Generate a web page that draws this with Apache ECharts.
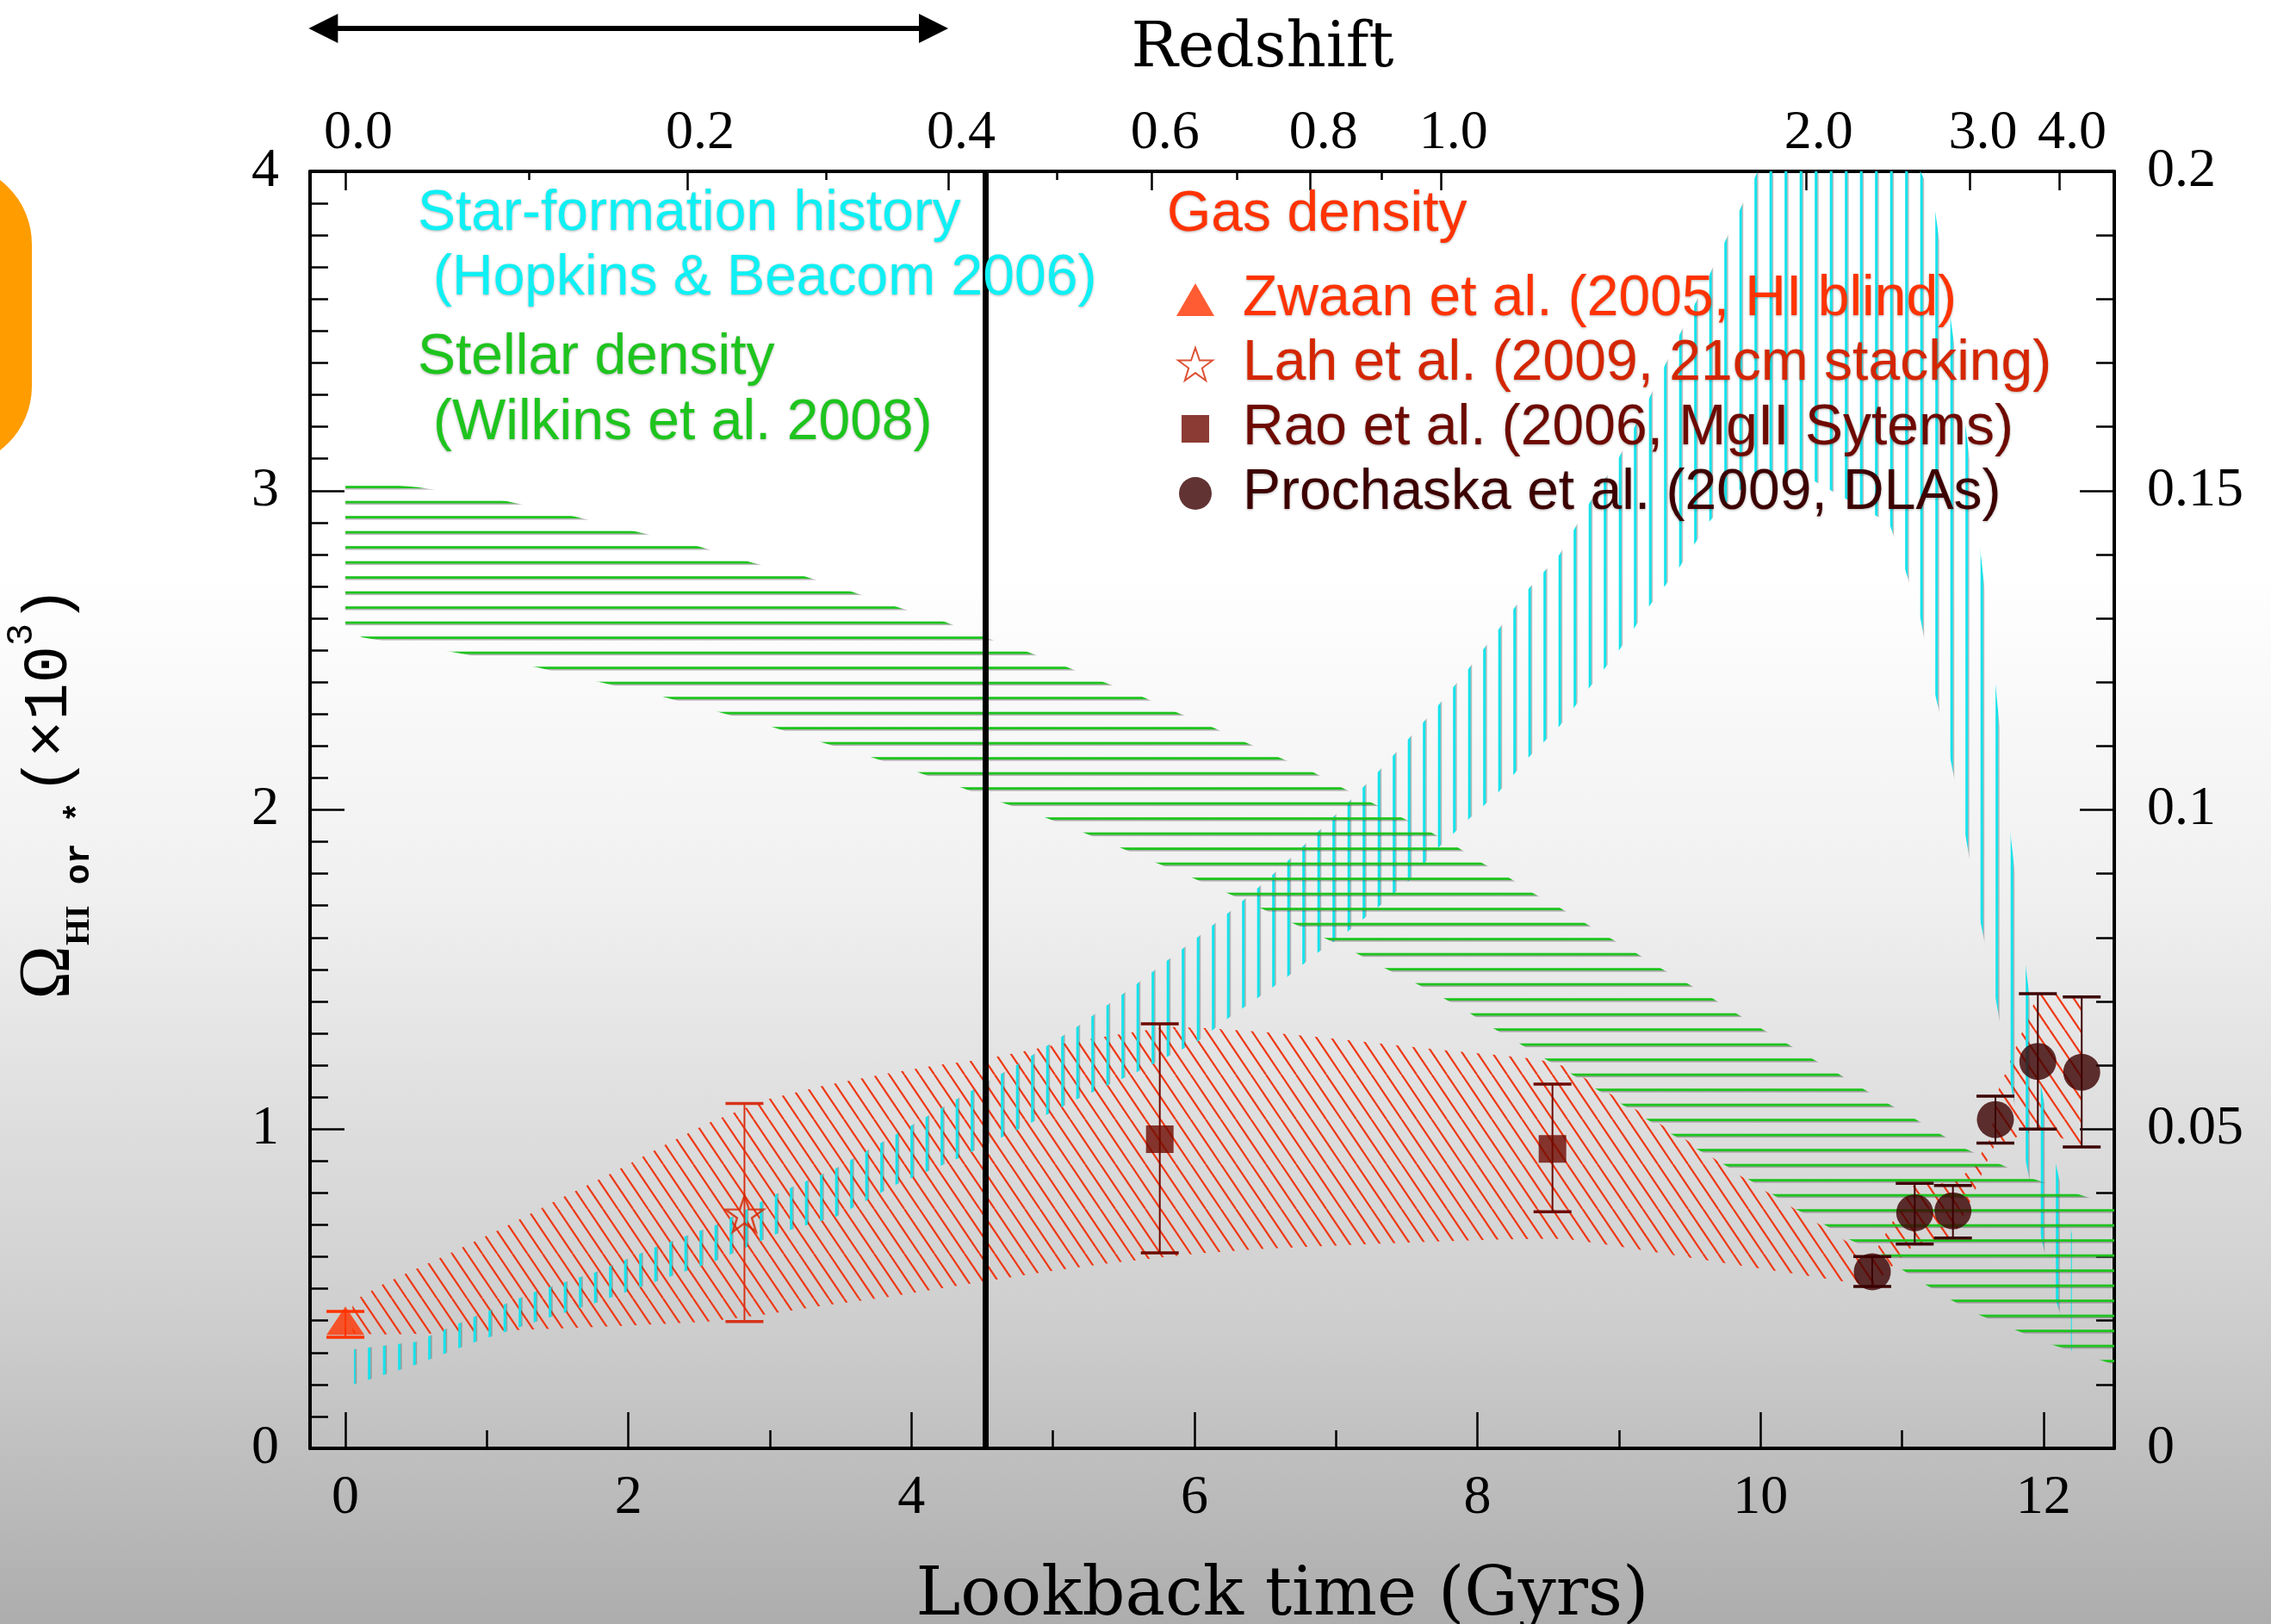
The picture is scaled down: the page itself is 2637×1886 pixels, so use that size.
<!DOCTYPE html>
<html>
<head>
<meta charset="utf-8">
<script src="https://cdn.jsdelivr.net/npm/echarts@6/dist/echarts.min.js"></script>
<style>
html, body { margin: 0; padding: 0; }
#chart { width: 2637px; height: 1886px; }
</style>
</head>
<body>
<div id="chart"></div>
<script>
// lookback time axis (Gyr)
var xMajor = [0, 2, 4, 6, 8, 10, 12];
var xMinor = [1, 3, 5, 7, 9, 11];
// redshift ticks, placed at the lookback time they correspond to
var zMajorT = [0, 2.415, 4.26, 5.70, 6.82, 7.74, 10.32, 11.48, 12.11];
var zMajorLabels = ['0.0', '0.2', '0.4', '0.6', '0.8', '1.0', '2.0', '3.0', '4.0'];
var zMinorT = [1.295, 3.395, 5.03, 6.30, 7.32];

// star-formation history band (right axis)
var sfrT = [0.06, 0.50, 0.92, 1.34, 1.77, 2.19, 2.62, 3.05, 3.47, 3.90, 4.32, 4.75, 5.17, 5.59, 6.02, 6.24, 6.45, 6.66, 6.87, 7.08, 7.30, 7.52, 7.72, 7.94, 8.15, 8.36, 8.58, 8.79, 9.00, 9.21, 9.43, 9.64, 9.85, 9.98, 10.30, 10.70, 10.91, 11.01, 11.13, 11.22, 11.34, 11.45, 11.55, 11.66, 11.76, 11.87, 11.97, 12.08, 12.20];
var sfrLo = [0.0100, 0.0131, 0.0167, 0.0198, 0.0228, 0.0261, 0.0294, 0.0336, 0.0363, 0.0414, 0.0453, 0.0499, 0.0547, 0.0589, 0.0637, 0.0674, 0.0706, 0.0739, 0.0776, 0.0809, 0.0848, 0.0890, 0.0940, 0.0986, 0.1028, 0.1082, 0.1131, 0.1191, 0.1250, 0.1318, 0.1381, 0.1452, 0.1500, 0.1520, 0.1525, 0.1475, 0.1449, 0.1385, 0.1300, 0.1194, 0.1082, 0.0958, 0.0830, 0.0707, 0.0578, 0.0455, 0.0343, 0.0237, 0.0151];
var sfrHi = [0.0155, 0.0167, 0.0207, 0.0245, 0.0276, 0.0315, 0.0350, 0.0399, 0.0439, 0.0493, 0.0547, 0.0601, 0.0660, 0.0727, 0.0800, 0.0839, 0.0878, 0.0920, 0.0965, 0.1010, 0.1060, 0.1113, 0.1163, 0.1222, 0.1283, 0.1346, 0.1400, 0.1480, 0.1552, 0.1643, 0.1745, 0.1838, 0.1938, 0.2000, 0.2000, 0.2000, 0.2000, 0.2000, 0.2000, 0.1960, 0.1775, 0.1600, 0.1413, 0.1198, 0.0975, 0.0763, 0.0583, 0.0452, 0.0336];

// stellar density band, upper and lower edges
var starUpT = [0, 0.51, 1.14, 1.63, 2.07, 2.49, 2.86, 3.24, 3.58, 3.90, 4.23, 4.52, 4.82, 5.10, 5.36, 5.63, 5.87, 6.12, 6.37, 6.59, 6.83, 7.04, 7.25, 7.46, 7.67, 7.86, 8.03, 8.22, 8.39, 8.58, 8.75, 8.93, 9.11, 9.29, 9.47, 9.65, 9.82, 10.0, 10.18, 10.36, 10.54, 10.71, 10.9, 11.08, 11.26, 11.44, 11.67, 11.91, 12.22, 12.5];
var starUpY = [3.03, 3.011, 2.967, 2.918, 2.87, 2.826, 2.776, 2.732, 2.683, 2.635, 2.59, 2.54, 2.495, 2.447, 2.40, 2.355, 2.306, 2.26, 2.21, 2.166, 2.12, 2.07, 2.023, 1.977, 1.93, 1.883, 1.834, 1.788, 1.74, 1.694, 1.648, 1.6, 1.554, 1.505, 1.46, 1.413, 1.365, 1.316, 1.27, 1.222, 1.176, 1.13, 1.08, 1.035, 0.987, 0.94, 0.895, 0.847, 0.8, 0.76];
var starLowT = [0, 0.12, 0.75, 1.35, 1.80, 2.24, 2.64, 3.01, 3.38, 3.71, 4.03, 4.35, 4.64, 4.94, 5.21, 5.47, 5.73, 5.98, 6.23, 6.46, 6.68, 6.91, 7.13, 7.34, 7.55, 7.75, 7.94, 8.11, 8.29, 8.47, 8.65, 8.82, 9.01, 9.18, 9.36, 9.54, 9.72, 9.90, 10.07, 10.24, 10.44, 10.61, 10.84, 10.98, 11.15, 11.33, 11.52, 11.78, 12.03, 12.38, 12.5];
var starLowY = [2.565, 2.54, 2.495, 2.447, 2.40, 2.355, 2.306, 2.26, 2.21, 2.166, 2.12, 2.07, 2.023, 1.977, 1.93, 1.883, 1.834, 1.788, 1.74, 1.694, 1.648, 1.6, 1.554, 1.505, 1.46, 1.413, 1.365, 1.316, 1.27, 1.222, 1.176, 1.13, 1.08, 1.035, 0.987, 0.94, 0.895, 0.847, 0.8, 0.752, 0.704, 0.658, 0.61, 0.566, 0.517, 0.469, 0.423, 0.375, 0.329, 0.28, 0.262];

// gas density band
var gasT = [0.05, 0.27, 0.68, 1.08, 1.48, 1.89, 2.25, 2.57, 2.98, 3.38, 3.82, 4.19, 4.52, 5.00, 5.40, 5.81, 6.08, 6.49, 6.90, 7.32, 7.72, 8.14, 8.42, 8.63, 9.04, 9.45, 9.82, 10.22, 10.61, 10.79, 11.09, 11.36, 11.50, 11.63, 11.66, 11.96, 12.15, 12.27];
var gasLo = [0.36, 0.357, 0.36, 0.368, 0.375, 0.382, 0.39, 0.397, 0.42, 0.447, 0.473, 0.50, 0.523, 0.556, 0.58, 0.60, 0.612, 0.625, 0.633, 0.641, 0.648, 0.654, 0.656, 0.656, 0.63, 0.601, 0.575, 0.548, 0.521, 0.51, 0.64, 0.66, 0.79, 0.93, 0.95, 1.0, 0.968, 0.95];
var gasHi = [0.46, 0.515, 0.599, 0.683, 0.774, 0.864, 0.949, 1.02, 1.093, 1.136, 1.173, 1.201, 1.219, 1.262, 1.292, 1.32, 1.316, 1.304, 1.287, 1.268, 1.249, 1.232, 1.219, 1.195, 1.082, 0.974, 0.864, 0.756, 0.647, 0.60, 0.83, 0.83, 0.88, 0.975, 1.10, 1.424, 1.42, 1.414];

// measurements
var zwaanT = [0], zwaanY = [0.40], zwaanLo = [0.348], zwaanHi = [0.429];
var lahT = [2.82], lahY = [0.735], lahLo = [0.397], lahHi = [1.08];
var raoT = [5.755, 8.53], raoY = [0.968, 0.938], raoLo = [0.612, 0.741], raoHi = [1.33, 1.141];
var prochT = [10.79, 11.09, 11.36, 11.66, 11.96, 12.27];
var prochY = [0.553, 0.738, 0.744, 1.03, 1.212, 1.178];
var prochLo = [0.507, 0.640, 0.659, 0.956, 1.0, 0.944];
var prochHi = [0.601, 0.830, 0.823, 1.103, 1.424, 1.414];

var blackLineT = 4.52;
var arrowT = [-0.26, 4.26];

var names = ['Zwaan et al. (2005, HI blind)', 'Lah et al. (2009, 21cm stacking)', 'Rao et al. (2006, MgII Sytems)', 'Prochaska et al. (2009, DLAs)'];
var starPath = 'path://M50,0L61.8,35.1L98.1,35.1L68.8,56.7L79.4,91.5L50,70L20.6,91.5L31.2,56.7L1.9,35.1L38.2,35.1Z';

function zip(a, b, c) {
  return a.map(function (v, i) { return c ? [v, b[i], c[i]] : [v, b[i]]; });
}
// outline of a band: upper edge left to right, then lower edge back
function outline(upT, upY, lowT, lowY) {
  var pts = zip(upT, upY);
  for (var i = lowT.length - 1; i >= 0; i--) pts.push([lowT[i], lowY[i]]);
  return pts;
}

function hatch(w, h, draw) {
  var c = document.createElement('canvas');
  c.width = w; c.height = h;
  draw(c.getContext('2d'));
  return { image: c, repeat: 'repeat' };
}
var cyanFill = hatch(35, 4, function (ctx) {
  [8.7, 26.2].forEach(function (x) {
    ctx.fillStyle = 'rgba(70,70,70,0.35)';
    ctx.fillRect(x + 0.5, 0, 2.5, 4);
    ctx.fillStyle = '#14e3ec';
    ctx.fillRect(x - 1.5, 0, 3, 4);
  });
});
var greenFill = hatch(4, 35, function (ctx) {
  [5.6, 23.1].forEach(function (y) {
    ctx.fillStyle = 'rgba(70,70,70,0.4)';
    ctx.fillRect(0, y + 0.5, 4, 2.5);
    ctx.fillStyle = '#1ec41e';
    ctx.fillRect(0, y - 1.4, 4, 2.8);
  });
});
var redFill = hatch(35, 52, function (ctx) {
  ctx.strokeStyle = '#ee3814';
  ctx.lineWidth = 2.2;
  [-35, -17.5, 0, 17.5, 35].forEach(function (ox) {
    ctx.beginPath();
    ctx.moveTo(ox, 0);
    ctx.lineTo(ox + 35, 52);
    ctx.stroke();
  });
});

function bandSeries(pts, fill, yAxisIndex, z) {
  return {
    type: 'custom', xAxisIndex: 0, yAxisIndex: yAxisIndex, z: z, silent: true,
    data: pts, encode: { x: 0, y: 1 },
    renderItem: function (params, api) {
      if (params.dataIndex !== 0) return null;
      return {
        type: 'polygon',
        shape: { points: pts.map(function (p) { return api.coord(p); }) },
        style: { fill: fill }
      };
    }
  };
}

function errorSeries(data, color, z) {
  return {
    type: 'custom', xAxisIndex: 0, yAxisIndex: 0, z: z, silent: true,
    data: data, encode: { x: 0, y: [1, 2] },
    renderItem: function (params, api) {
      var a = api.coord([api.value(0), api.value(1)]);
      var b = api.coord([api.value(0), api.value(2)]);
      var w = 22;
      return {
        type: 'group',
        children: [
          { type: 'line', shape: { x1: a[0], y1: a[1], x2: b[0], y2: b[1] }, style: { stroke: color, lineWidth: 2 } },
          { type: 'line', shape: { x1: a[0] - w, y1: a[1], x2: a[0] + w, y2: a[1] }, style: { stroke: color, lineWidth: 3.5 } },
          { type: 'line', shape: { x1: b[0] - w, y1: b[1], x2: b[0] + w, y2: b[1] }, style: { stroke: color, lineWidth: 3.5 } }
        ]
      };
    }
  };
}

var serif = 'Liberation Serif';
var tickLabel = { fontFamily: serif, fontSize: 64, color: '#000' };
var axisLine = { show: true, onZero: false, lineStyle: { color: '#000', width: 4 } };
var shadow = { textShadowColor: 'rgba(0,0,0,0.3)', textShadowBlur: 3, textShadowOffsetY: 1 };

var chart = echarts.init(document.getElementById('chart'));
var option = {
  animation: false,
  backgroundColor: {
    type: 'linear', x: 0, y: 0, x2: 0, y2: 1,
    colorStops: [
      { offset: 0, color: '#ffffff' }, { offset: 0.35, color: '#ffffff' },
      { offset: 0.55, color: '#f0f0f0' }, { offset: 0.8, color: '#d0d0d0' },
      { offset: 1, color: '#adadad' }
    ]
  },
  grid: { left: 360, right: 182, top: 199, bottom: 204, containLabel: false, outerBoundsMode: 'none' },
  legend: {
    left: 1366, top: 315, orient: 'vertical',
    itemWidth: 44, itemHeight: 38, itemGap: 9, selectedMode: false, padding: 0,
    textStyle: Object.assign({ fontFamily: 'Liberation Sans', fontSize: 66, padding: [0, 0, 0, 28] }, shadow),
    data: [
      { name: names[0], icon: 'triangle', textStyle: { color: '#ff3300' } },
      { name: names[1], icon: starPath, itemStyle: { color: 'rgba(0,0,0,0)', borderColor: '#d42600', borderWidth: 2 }, textStyle: { color: '#d42600' } },
      { name: names[2], icon: 'path://M0,0M38,38M3,3h32v32h-32z', textStyle: { color: '#6e0a00' } },
      { name: names[3], icon: 'circle', textStyle: { color: '#3d0000' } }
    ]
  },
  xAxis: [
    {
      type: 'value', position: 'bottom', min: -0.25, max: 12.5,
      axisLine: axisLine,
      axisTick: { inside: true, length: 42, customValues: xMajor, lineStyle: { color: '#000', width: 2.5 } },
      axisLabel: Object.assign({ customValues: xMajor, margin: 26 }, tickLabel),
      splitLine: { show: false },
      name: 'Lookback time (Gyrs)', nameLocation: 'middle', nameGap: 134,
      nameTextStyle: { fontFamily: 'DejaVu Serif', fontSize: 78, color: '#000', padding: [0, 0, 0, 163] }
    },
    {
      type: 'value', position: 'bottom', min: -0.25, max: 12.5,
      axisLine: { show: false, onZero: false },
      axisTick: { inside: true, length: 21, customValues: xMinor, lineStyle: { color: '#000', width: 2.5 } },
      axisLabel: { show: false }, splitLine: { show: false }
    },
    {
      type: 'value', position: 'top', min: -0.25, max: 12.5,
      axisLine: axisLine,
      axisTick: { inside: true, length: 22, customValues: zMajorT, lineStyle: { color: '#000', width: 2.5 } },
      axisLabel: Object.assign({
        customValues: zMajorT, margin: 12, padding: [0, 0, 0, 30],
        formatter: function (v) { return zMajorLabels[zMajorT.indexOf(v)]; }
      }, tickLabel),
      splitLine: { show: false },
      name: 'Redshift', nameLocation: 'middle', nameGap: 105,
      nameTextStyle: { fontFamily: 'DejaVu Serif', fontSize: 72, color: '#000', padding: [0, 0, 0, 117] }
    },
    {
      type: 'value', position: 'top', min: -0.25, max: 12.5,
      axisLine: { show: false, onZero: false },
      axisTick: { inside: true, length: 10, customValues: zMinorT, lineStyle: { color: '#000', width: 2.5 } },
      axisLabel: { show: false }, splitLine: { show: false }
    }
  ],
  yAxis: [
    {
      type: 'value', position: 'left', min: 0, max: 4, interval: 1,
      axisLine: axisLine,
      axisTick: { inside: true, length: 40, lineStyle: { color: '#000', width: 2.5 } },
      minorTick: { show: true, splitNumber: 10, length: 21, lineStyle: { color: '#000', width: 2.5 } },
      axisLabel: Object.assign({ margin: 36 }, tickLabel),
      splitLine: { show: false },
      name: '{om|Ω}{hi|HI}{or| or *}{gap| }{par|(×10}{sup|3}{par|)}',
      nameLocation: 'middle', nameGap: 247, nameRotate: 90,
      nameTextStyle: {
        color: '#000', padding: [0, 0, 0, 40],
        rich: {
          om: { fontFamily: serif, fontSize: 84, lineHeight: 110, color: '#000' },
          hi: { fontFamily: serif, fontWeight: 'bold', fontSize: 40, lineHeight: 40, verticalAlign: 'bottom', color: '#000' },
          or: { fontFamily: 'Liberation Mono', fontWeight: 'bold', fontSize: 40, lineHeight: 40, verticalAlign: 'bottom', color: '#000' },
          gap: { fontSize: 30 },
          par: { fontFamily: 'Liberation Mono', fontSize: 72, lineHeight: 110, color: '#000' },
          sup: { fontFamily: 'Liberation Mono', fontSize: 44, lineHeight: 64, verticalAlign: 'top', color: '#000' }
        }
      }
    },
    {
      type: 'value', position: 'right', min: 0, max: 0.2, interval: 0.05,
      axisLine: axisLine,
      axisTick: { inside: true, length: 40, lineStyle: { color: '#000', width: 2.5 } },
      minorTick: { show: true, splitNumber: 5, length: 21, lineStyle: { color: '#000', width: 2.5 } },
      axisLabel: Object.assign({ margin: 38 }, tickLabel),
      splitLine: { show: false }
    }
  ],
  series: [
    bandSeries(zip(gasT, gasHi).concat(zip(gasT, gasLo).reverse()), redFill, 0, 1),
    bandSeries(zip(sfrT, sfrHi).concat(zip(sfrT, sfrLo).reverse()), cyanFill, 1, 2),
    bandSeries(outline(starUpT, starUpY, starLowT, starLowY), greenFill, 0, 3),
    errorSeries(zip(zwaanT, zwaanLo, zwaanHi), '#ff3300', 4),
    errorSeries(zip(lahT, lahLo, lahHi), '#d63218', 4),
    errorSeries(zip(raoT, raoLo, raoHi), '#6e0a00', 4),
    errorSeries(zip(prochT, prochLo, prochHi), '#3d0505', 4),
    {
      type: 'scatter', name: names[0], data: zip(zwaanT, zwaanY), z: 6,
      symbol: 'triangle', symbolSize: [44, 33], itemStyle: { color: '#ff3300' },
      markLine: {
        silent: true, symbol: ['none', 'none'], label: { show: false },
        lineStyle: { color: '#000', width: 7, type: 'solid' },
        emphasis: { disabled: true },
        data: [{ xAxis: blackLineT }]
      }
    },
    {
      type: 'scatter', name: names[1], data: zip(lahT, lahY), z: 6,
      symbol: starPath, symbolSize: [44, 42],
      itemStyle: { color: 'rgba(0,0,0,0)', borderColor: '#d42600', borderWidth: 2.5 }
    },
    {
      type: 'scatter', name: names[2], data: zip(raoT, raoY), z: 6,
      symbol: 'rect', symbolSize: 32, itemStyle: { color: '#6e0a00' }
    },
    {
      type: 'scatter', name: names[3], data: zip(prochT, prochY), z: 6,
      symbol: 'circle', symbolSize: 43, itemStyle: { color: '#3b0000' }
    }
  ]
};
chart.setOption(option);

var ax0 = chart.convertToPixel({ xAxisIndex: 0 }, arrowT[0]);
var ax1 = chart.convertToPixel({ xAxisIndex: 0 }, arrowT[1]);
var ay = 33;
var sans = '66px "Liberation Sans"';
function label(x, y, text, color) {
  return {
    type: 'text', x: x, y: y, z: 50,
    style: Object.assign({ text: text, fill: color, font: sans, align: 'left', verticalAlign: 'middle' }, shadow)
  };
}
chart.setOption({
  graphic: [
    { type: 'rect', shape: { x: -150, y: 190, width: 187, height: 352, r: 100 }, style: { fill: '#ff9c00' } },
    { type: 'line', shape: { x1: ax0 + 20, y1: ay, x2: ax1 - 20, y2: ay }, style: { stroke: '#000', lineWidth: 6 } },
    { type: 'polygon', shape: { points: [[ax0, ay], [ax0 + 34, ay - 17], [ax0 + 34, ay + 17]] }, style: { fill: '#000' } },
    { type: 'polygon', shape: { points: [[ax1, ay], [ax1 - 34, ay - 17], [ax1 - 34, ay + 17]] }, style: { fill: '#000' } },
    label(485, 249, 'Star-formation history', '#0ff0f4'),
    label(503, 324, '(Hopkins & Beacom 2006)', '#0ff0f4'),
    label(485, 416, 'Stellar density', '#1ec41e'),
    label(503, 492, '(Wilkins et al. 2008)', '#1ec41e'),
    label(1355, 250, 'Gas density', '#ff3300')
  ]
});
</script>
</body>
</html>
